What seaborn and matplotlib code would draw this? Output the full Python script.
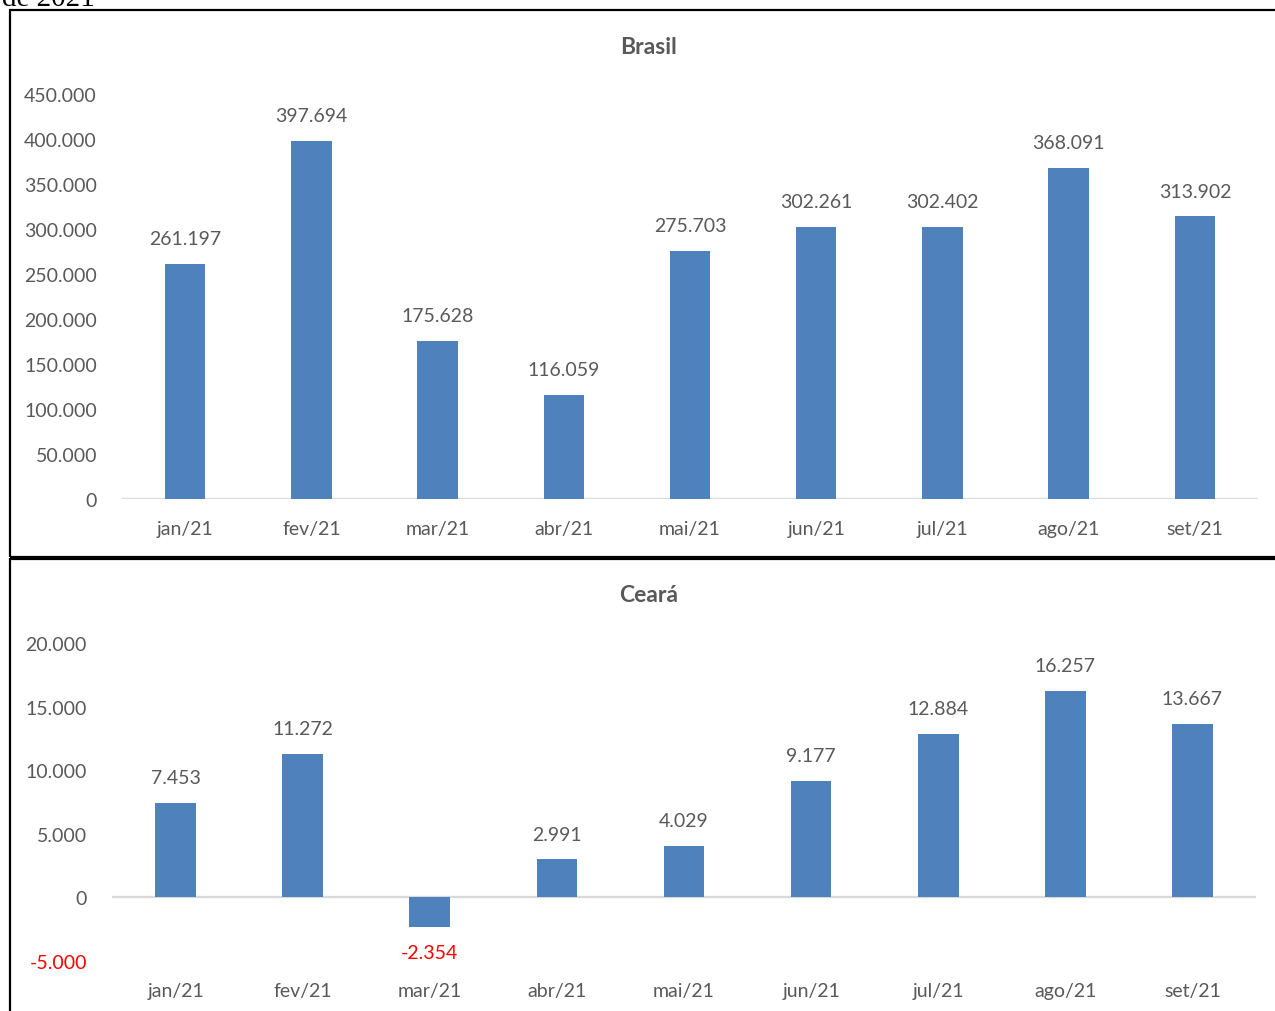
import matplotlib
matplotlib.use("Agg")
import matplotlib.pyplot as plt
import seaborn as sns
import pandas as pd
from matplotlib.patches import Rectangle
from matplotlib.ticker import FuncFormatter

meses = ["jan/21", "fev/21", "mar/21", "abr/21", "mai/21", "jun/21", "jul/21", "ago/21", "set/21"]
brasil = [261197, 397694, 175628, 116059, 275703, 302261, 302402, 368091, 313902]
ceara = [7453, 11272, -2354, 2991, 4029, 9177, 12884, 16257, 13667]

sns.set_theme(style="white")
plt.rcParams["font.family"] = ["Lato", "DejaVu Sans"]

W, H = 1275, 1012
BAR = "#4F81BD"
TXT = "#595959"
GRID = "#D9D9D9"

fig = plt.figure(figsize=(W / 100, H / 100), dpi=100)


def px_axes(left, top, right, bottom):
    return fig.add_axes([left / W, 1 - bottom / H, (right - left) / W, (bottom - top) / H])


def fmt_num(v):
    s = f"{abs(int(v)):,}".replace(",", ".")
    return ("-" if v < 0 else "") + s


def draw_panel(ax, values, title, ylim, step, title_y):
    df = pd.DataFrame({"mes": meses, "valor": values})
    sns.barplot(data=df, x="mes", y="valor", color=BAR, width=0.32,
                saturation=1, ax=ax, edgecolor="none")
    ax.set_xlim(-0.5, len(meses) - 0.5)
    ax.set_ylim(*ylim)
    ticks = list(range(ylim[0], ylim[1] + 1, step))
    ax.set_yticks(ticks)
    ax.yaxis.set_major_formatter(FuncFormatter(lambda v, p: fmt_num(v)))
    for t, v in zip(ax.get_yticklabels(), ticks):
        t.set_color("red" if v < 0 else TXT)
    ax.tick_params(axis="y", length=0, pad=18, labelsize=14)
    ax.tick_params(axis="x", length=0, pad=15, labelsize=14, labelcolor=TXT)
    ax.set_xlabel("")
    ax.set_ylabel("")
    for s in ax.spines.values():
        s.set_visible(False)
    ax.axhline(0, color=GRID, lw=1.6, zorder=0.5)
    labels = ax.bar_label(ax.containers[0], labels=[fmt_num(v) for v in values],
                          padding=12, fontsize=14)
    for t, v in zip(labels, values):
        t.set_color("red" if v < 0 else TXT)
    fig.text(649 / W, 1 - title_y / H, title, ha="center", va="center",
             fontsize=16.5, fontweight="bold", color=TXT)


ax1 = px_axes(122, 95, 1258, 500)
draw_panel(ax1, brasil, "Brasil", (0, 450000), 50000, 48)

ax2 = px_axes(112, 644, 1256, 962)
draw_panel(ax2, ceara, "Ceará", (-5000, 20000), 5000, 596)

# panel frames
fig.patches.append(Rectangle((10 / W, 1 - 558 / H), 1.2, (558 - 11) / H,
                             transform=fig.transFigure, fill=False,
                             edgecolor="black", lw=1.6))
fig.patches.append(Rectangle((10 / W, -0.2), 1.2, 0.2 + (1012 - 560) / H,
                             transform=fig.transFigure, fill=False,
                             edgecolor="black", lw=1.6))

fig.text(2 / W, 1 - 6 / H, "de 2021", fontsize=21, family=["Liberation Serif", "DejaVu Serif"],
         color="black", ha="left", va="baseline")

fig.savefig("out.png", dpi=100, facecolor="white")
